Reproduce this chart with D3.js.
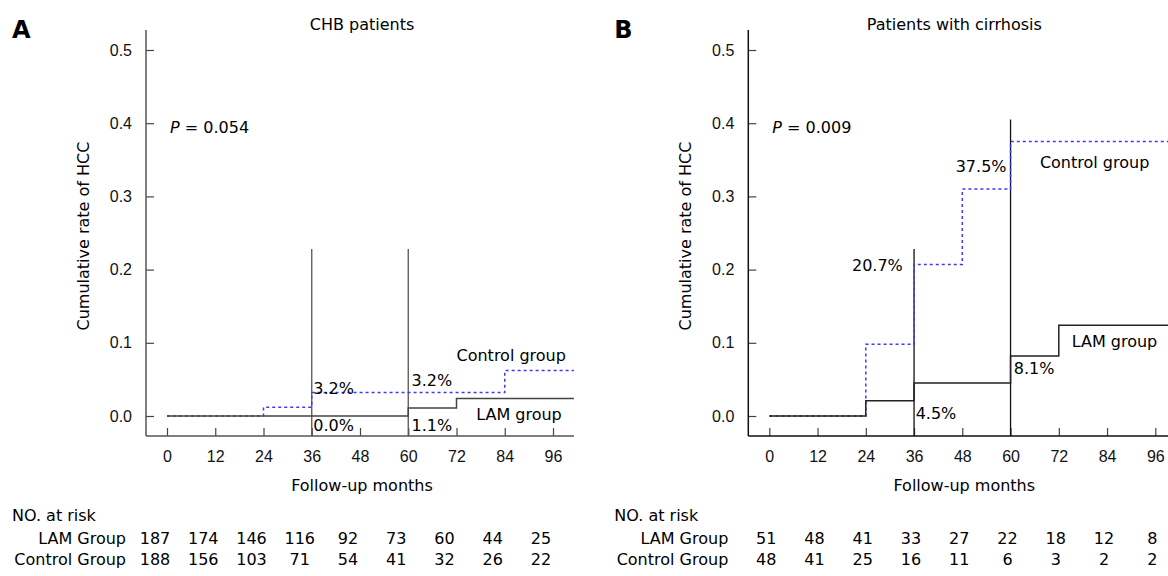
<!DOCTYPE html>
<html>
<head>
<meta charset="utf-8">
<script src="https://cdn.jsdelivr.net/npm/d3@7"></script>
<style>
  body { margin: 0; background: #fff; }
  svg { font-family: 'DejaVu Sans', sans-serif; }
  .tick text { font-size: 16px; fill: #111; }
  .tick line { stroke: #444; stroke-width: 1.2; }
</style>
</head>
<body>
<svg id="chart" width="1168" height="576"></svg>
<script>
// axis ticks
const months = [0, 12, 24, 36, 48, 60, 72, 84, 96]
const rateTicks = [0, 0.1, 0.2, 0.3, 0.4, 0.5]

// CHB patients: cumulative HCC rate, step changes at these months
const chbLamMonths = [0, 60, 72]
const chbLamRates = [0, 0.011, 0.024]
const chbCtrlMonths = [0, 24, 36, 84]
const chbCtrlRates = [0, 0.012, 0.032, 0.062]
const chbMarkMonths = [36, 60]
const chbMarkTops = [0.228, 0.228]
const chbLamRisk = [187, 174, 146, 116, 92, 73, 60, 44, 25]
const chbCtrlRisk = [188, 156, 103, 71, 54, 41, 32, 26, 22]
const chbNotes = ['3.2%', '0.0%', '3.2%', '1.1%', 'Control group', 'LAM group']
const chbNoteMonths = [36.4, 36.4, 60.8, 60.8, 72, 76.9]
const chbNoteRates = [0.038, -0.0135, 0.048, -0.0135, 0.083, 0.0015]

// Patients with cirrhosis
const cirLamMonths = [0, 24, 36, 60, 72]
const cirLamRates = [0, 0.021, 0.045, 0.082, 0.124]
const cirCtrlMonths = [0, 24, 36, 48, 60]
const cirCtrlRates = [0, 0.098, 0.207, 0.31, 0.375]
const cirMarkMonths = [36, 60]
const cirMarkTops = [0.228, 0.405]
const cirLamRisk = [51, 48, 41, 33, 27, 22, 18, 12, 8]
const cirCtrlRisk = [48, 41, 25, 16, 11, 6, 3, 2, 2]
const cirNotes = ['20.7%', '4.5%', '8.1%', '37.5%', 'Control group', 'LAM group']
const cirNoteMonths = [33.2, 36.4, 60.8, 59.0, 67.3, 75.2]
const cirNoteRates = [0.206, 0.0035, 0.065, 0.3405, 0.346, 0.1015]
const cirNoteEnds = [true, false, false, true, false, false]

const svg = d3.select('#chart')

function drawPanel (p) {
  const g = svg.append('g').attr('transform', `translate(${p.dx}, 0)`)
  const x = d3.scaleLinear().domain([0, 96]).range([167, 553])
  const y = d3.scaleLinear().domain([0, 0.5]).range([416, 50])
  const axisX = 146
  const axisY = 436

  // letter + title
  g.append('text').attr('x', 12).attr('y', 38)
    .style('font-size', '24px').style('font-weight', 'bold').text(p.letter)
  g.append('text').attr('x', p.titleX).attr('y', 24).attr('dominant-baseline', 'central')
    .attr('text-anchor', 'middle').style('font-size', '16px').text(p.title)

  // y axis
  const yAxis = g.append('g').attr('transform', `translate(${axisX}, 0)`)
    .call(d3.axisLeft(y).tickValues(rateTicks).tickFormat(d3.format('.1f'))
      .tickSizeInner(-8).tickSizeOuter(0).tickPadding(14))
  yAxis.select('.domain').remove()
  yAxis.selectAll('.tick line').attr('stroke', p.axisColor)
  g.append('line').attr('x1', axisX).attr('x2', axisX).attr('y1', 30).attr('y2', axisY)
    .attr('stroke', p.axisColor).attr('stroke-width', 1.5)

  // x axis
  const xAxis = g.append('g').attr('transform', `translate(0, ${axisY})`)
    .call(d3.axisBottom(x).tickValues(months).tickSizeInner(-8).tickSizeOuter(0).tickPadding(15))
  xAxis.select('.domain').remove()
  xAxis.selectAll('.tick line').attr('stroke', p.axisColor)
  g.append('line').attr('x1', axisX).attr('x2', x(p.endMonth)).attr('y1', axisY).attr('y2', axisY)
    .attr('stroke', p.axisColor).attr('stroke-width', 1.5)

  g.append('text').attr('transform', `translate(83, 236) rotate(-90)`)
    .attr('text-anchor', 'middle').attr('dominant-baseline', 'central')
    .style('font-size', '16px').text('Cumulative rate of HCC')
  g.append('text').attr('x', 362).attr('y', 485).attr('text-anchor', 'middle')
    .attr('dominant-baseline', 'central').style('font-size', '16px').text('Follow-up months')

  // marker lines at 36 and 60 months
  g.selectAll('.mark').data(p.markMonths).enter().append('line')
    .attr('x1', d => x(d)).attr('x2', d => x(d))
    .attr('y1', (d, i) => y(p.markTops[i])).attr('y2', axisY)
    .attr('stroke', p.axisColor).attr('stroke-width', 1.3)

  const step = d3.line().x(d => x(d[0])).y(d => y(d[1])).curve(d3.curveStepAfter)
  const pts = (ms, rs) => ms.map((m, i) => [m, rs[i]]).concat([[p.endMonth, rs[rs.length - 1]]])

  g.append('path').attr('d', step(pts(p.ctrlMonths, p.ctrlRates)))
    .attr('fill', 'none').attr('stroke', '#3a3aff').attr('stroke-width', 1.5)
    .attr('stroke-dasharray', '3,3')
  g.append('path').attr('d', step(pts(p.lamMonths, p.lamRates)))
    .attr('fill', 'none').attr('stroke', p.lamColor).attr('stroke-width', 1.5)

  // annotations
  g.append('text').attr('x', x(0.75)).attr('y', y(0.395)).attr('dominant-baseline', 'central')
    .style('font-size', '16px')
    .call(t => {
      t.append('tspan').style('font-style', 'italic').text('P')
      t.append('tspan').text(' = ' + p.pValue)
    })
  g.selectAll('.note').data(p.notes).enter().append('text')
    .attr('x', (d, i) => x(p.noteMonths[i])).attr('y', (d, i) => y(p.noteRates[i]))
    .attr('text-anchor', (d, i) => p.noteEnds[i] ? 'end' : 'start')
    .attr('dominant-baseline', 'central').style('font-size', '16px').text(d => d)

  // number at risk table
  g.append('text').attr('x', 12).attr('y', 515).attr('dominant-baseline', 'central')
    .style('font-size', '16px').text('NO. at risk')
  const rows = [['LAM Group', p.lamRisk, 538], ['Control Group', p.ctrlRisk, 559]]
  rows.forEach(([label, vals, ry]) => {
    g.append('text').attr('x', 126).attr('y', ry).attr('text-anchor', 'end')
      .attr('dominant-baseline', 'central').style('font-size', '16px').text(label)
    g.selectAll(null).data(vals).enter().append('text')
      .attr('x', (d, i) => x(months[i]) + p.riskShift).attr('y', ry)
      .attr('text-anchor', 'middle').attr('dominant-baseline', 'central')
      .style('font-size', '16px').text(d => d)
  })
}

drawPanel({
  dx: 0, letter: 'A', title: 'CHB patients', titleX: 362, pValue: '0.054',
  axisColor: '#555', lamColor: '#444', endMonth: 101.2, riskShift: -12,
  lamMonths: chbLamMonths, lamRates: chbLamRates,
  ctrlMonths: chbCtrlMonths, ctrlRates: chbCtrlRates,
  markMonths: chbMarkMonths, markTops: chbMarkTops,
  lamRisk: chbLamRisk, ctrlRisk: chbCtrlRisk,
  notes: chbNotes, noteMonths: chbNoteMonths, noteRates: chbNoteRates,
  noteEnds: chbNotes.map(() => false)
})

drawPanel({
  dx: 602.3, letter: 'B', title: 'Patients with cirrhosis', titleX: 352, pValue: '0.009',
  axisColor: '#111', lamColor: '#222', endMonth: 100, riskShift: -3,
  lamMonths: cirLamMonths, lamRates: cirLamRates,
  ctrlMonths: cirCtrlMonths, ctrlRates: cirCtrlRates,
  markMonths: cirMarkMonths, markTops: cirMarkTops,
  lamRisk: cirLamRisk, ctrlRisk: cirCtrlRisk,
  notes: cirNotes, noteMonths: cirNoteMonths, noteRates: cirNoteRates,
  noteEnds: cirNoteEnds
})
</script>
</body>
</html>
